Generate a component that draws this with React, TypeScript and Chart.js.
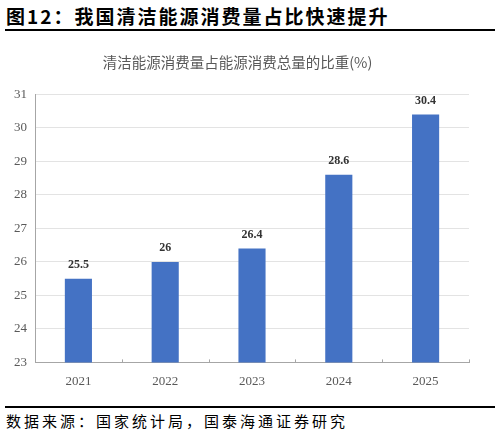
import Chart, { ChartConfiguration } from "chart.js/auto";
import React, { useRef } from "react";

const years = ["2021", "2022", "2023", "2024", "2025"];
const share = [25.5, 26, 26.4, 28.6, 30.4];
const yMin = 23;
const yMax = 31;

const CJK = '"Noto Sans CJK SC", "Liberation Serif", serif';
const SERIF = '"Liberation Serif", "Times New Roman", serif';

// value labels above the bars + small inward ticks on x axis
const barLabels = {
  id: "barLabels",
  afterDatasetsDraw(chart: any) {
    const ctx = chart.ctx;
    const meta = chart.getDatasetMeta(0);
    ctx.save();
    ctx.font = "bold 12px " + SERIF;
    ctx.fillStyle = "#333333";
    ctx.textAlign = "center";
    ctx.textBaseline = "bottom";
    meta.data.forEach((bar: any, i: number) => {
      ctx.fillText(String(share[i]), bar.x, bar.y - 8);
    });
    const x = chart.scales.x;
    const bottom = chart.chartArea.bottom;
    ctx.strokeStyle = "#a6a6a6";
    ctx.lineWidth = 1;
    for (let i = 0; i < years.length; i++) {
      const px = Math.round(x.getPixelForValue(i + 0.5)) + 0.5;
      ctx.beginPath();
      ctx.moveTo(px, bottom);
      ctx.lineTo(px, bottom - 3);
      ctx.stroke();
    }
    ctx.restore();
  },
};

const Graph = () => {
  const canvasEl = useRef<HTMLCanvasElement>(null);
  React.useEffect(() => {
    const ctx = canvasEl.current!.getContext("2d")!;
    const config = {
      type: "bar",
      data: {
        labels: years,
        datasets: [
          {
            data: share,
            backgroundColor: "#4472C4",
            barPercentage: 0.625,
            categoryPercentage: 0.5,
          },
        ],
      },
      options: {
        responsive: true,
        maintainAspectRatio: false,
        animation: false,
        layout: { padding: { left: 6, right: 31, top: 0, bottom: 0 } },
        plugins: {
          legend: { display: false },
          tooltip: { enabled: false },
          title: {
            display: true,
            text: "清洁能源消费量占能源消费总量的比重(%)",
            color: "#595959",
            font: { family: CJK, size: 14.5, weight: "normal" },
            padding: { top: 16, bottom: 23 },
          },
        },
        scales: {
          x: {
            grid: { display: false },
            border: { display: true, color: "#a6a6a6", width: 1 },
            ticks: {
              color: "#595959",
              font: { family: SERIF, size: 13 },
              padding: 3,
            },
          },
          y: {
            min: yMin,
            max: yMax,
            grid: {
              color: "#e3e3e3",
              borderDash: [2, 2],
              tickLength: 0,
              drawTicks: false,
            },
            border: { display: true, color: "#a6a6a6", width: 1 },
            ticks: {
              stepSize: 1,
              color: "#595959",
              font: { family: SERIF, size: 13 },
              padding: 8,
            },
          },
        },
      },
      plugins: [barLabels],
    } as unknown as ChartConfiguration;
    const myChart = new Chart(ctx, config);
    return () => {
      myChart.destroy();
    };
  }, []);
  return <canvas ref={canvasEl}></canvas>;
};

export default function App() {
  return (
    <div
      style={{
        position: "fixed",
        left: 0,
        top: 0,
        width: 500,
        height: 435,
        background: "#fff",
        fontFamily: CJK,
      }}
    >
      <div
        style={{
          position: "absolute",
          left: 6,
          top: 3,
          fontSize: 19,
          fontWeight: "bold",
          lineHeight: "25px",
          color: "#000",
          letterSpacing: 2,
          whiteSpace: "nowrap",
        }}
      >
        图12：我国清洁能源消费量占比快速提升
      </div>
      <div
        style={{
          position: "absolute",
          left: 5,
          top: 29,
          width: 490,
          height: 2,
          background: "#000",
        }}
      />
      <div style={{ position: "absolute", left: 0, top: 38, width: 500, height: 354 }}>
        <Graph />
      </div>
      <div
        style={{
          position: "absolute",
          left: 5,
          top: 406,
          width: 490,
          height: 2,
          background: "#000",
        }}
      />
      <div
        style={{
          position: "absolute",
          left: 6,
          top: 410,
          fontSize: 15,
          lineHeight: "22px",
          color: "#000",
          letterSpacing: 3,
          whiteSpace: "nowrap",
        }}
      >
        数据来源：国家统计局，国泰海通证券研究
      </div>
    </div>
  );
}
